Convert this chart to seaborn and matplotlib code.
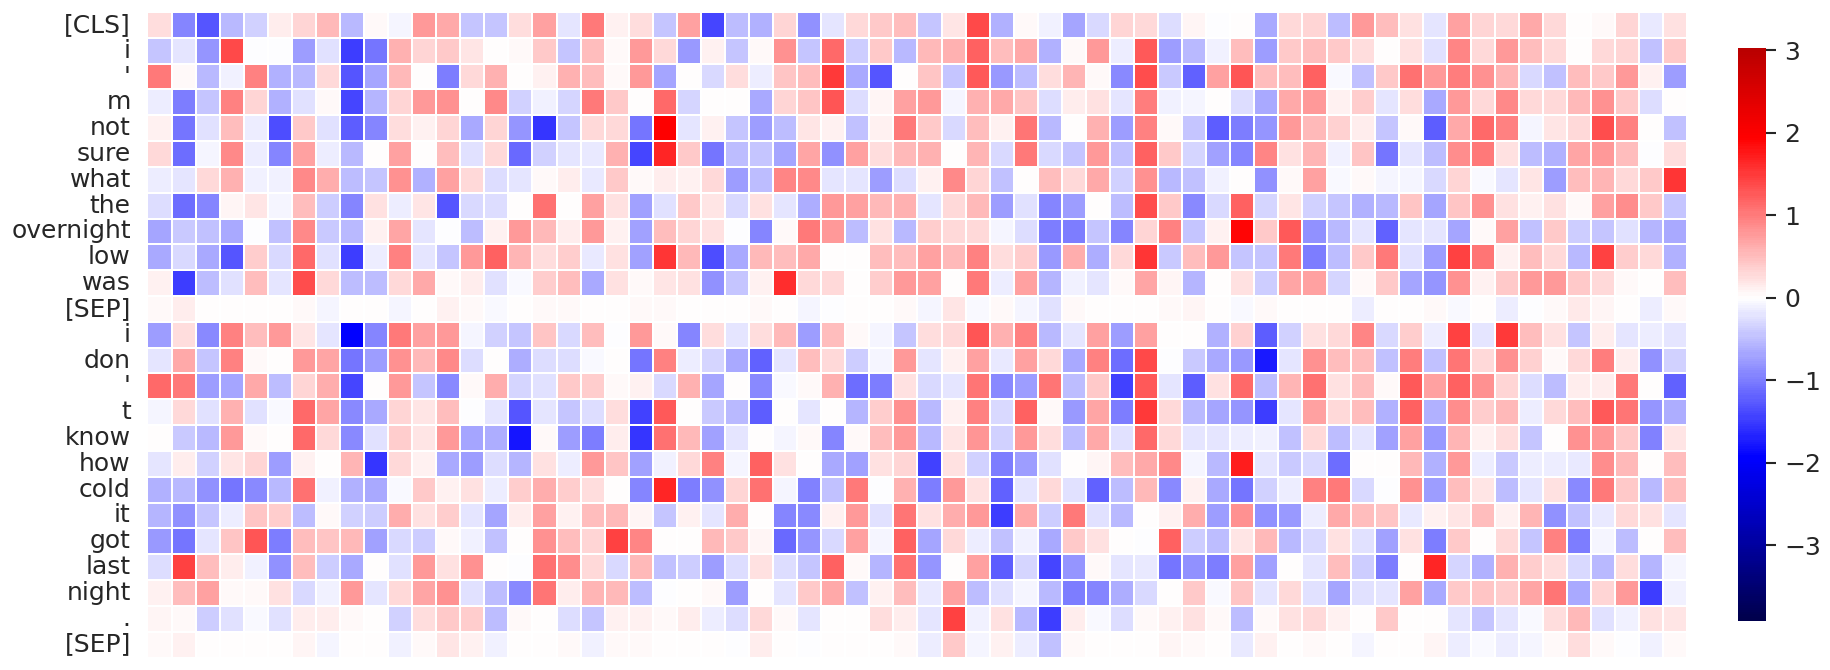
import numpy as np
import pandas as pd
import seaborn as sns
import matplotlib
matplotlib.use("Agg")
import matplotlib.pyplot as plt

tokens = ["[CLS]", "i", "'", "m", "not", "sure", "what", "the", "overnight", "low", "was", "[SEP]",
          "i", "don", "'", "t", "know", "how", "cold", "it", "got", "last", "night", ".", "[SEP]"]

row_cls = [.25,-.92,-1.3,-.55,-.35,.15,.33,.55,-.55,.03,-.07,.8,.65,-.45,-.45,.25,.72,-.18,1.0,.12,
           .25,-.47,.72,-1.4,-.5,-.6,.33,-.85,-.22,.3,.4,.5,-.45,.2,1.4,-.6,.03,-.1,-.7,-.3,.33,.28,-.28,.08,
           -.03,0,-.65,.27,.33,-.5,.75,.5,.22,-.22,.7,.33,.28,.65,.3,0,.04,.33,-.15,.22]
row_i1 = [-.45,-.2,-.8,1.4,-.03,-.03,-.75,-.25,-1.5,-1.05,.6,.32,.4,.2,0,.03,.4,-.47,.5,.03,
          .75,.28,-.78,.12,-.45,.03,.85,-.42,1.15,-.38,.4,-.55,.53,.6,1.2,.48,.65,-.6,.04,.78,-.12,1.25,-.75,-.55,
          -.1,.5,-.75,.4,.5,.4,.25,0,.22,-.25,.92,.28,.75,.5,.3,0,.3,.33,-.48,.4]
row_apos1 = [1.0,.04,-.55,-.1,.95,-.6,-.55,.27,-1.3,-.7,.55,0,-1.0,.3,.6,0,.1,.6,.5,.04,
             .75,-.68,0,-.3,.25,-.12,.45,.5,1.5,-.65,-1.3,0,.45,-.45,1.25,-.78,-.5,.25,.58,.06,-.9,1.35,-.4,-1.2,
             .7,1.3,.5,.5,1.2,-.04,-.48,.42,1.1,.78,.98,.85,.57,-.3,-.48,.5,.4,.75,.12,-.75]
row_m = [-.14,-1.0,-.42,.95,.33,-.6,-.25,.07,-1.4,-.58,.33,.8,.85,.01,.9,-.35,-.1,-.33,1.0,.4,
         0,1.15,-.32,0,0,-.65,.33,.45,1.3,-.28,.08,.7,.75,-.08,.6,.65,.45,-.28,.14,.22,-.2,.98,-.1,-.08,
         0,-.27,-.65,.65,.78,.1,.38,-.22,.25,-.65,.75,.3,.9,.3,.3,.52,.85,.42,-.27,0]
row_not = [.12,-1.05,-.25,.5,-.13,-1.35,.42,-.25,-1.25,-.95,.25,.1,.33,-.65,.33,-.8,-1.55,-.45,.3,.27,
           -1.05,1.96,-.2,.1,-.45,-.75,-.5,.2,.12,-.48,.12,1.0,.42,-.3,.48,.12,1.05,-.55,0,.6,-.75,.95,.07,-.45,
           -1.25,-1.0,-.8,.8,.55,.35,.15,-.45,.05,-1.25,.65,1.15,.95,-.08,.18,.3,1.35,.95,0,-.48]
row_sure = [.27,-1.1,-.08,.9,-.13,-.92,.72,-.12,-.55,0,.72,0,.48,-.25,.3,-1.15,-.35,-.2,-.15,.6,
            -1.4,1.65,.42,-1.05,-.5,-.45,-.68,.68,-.85,.72,.25,.52,.6,0,.58,-.3,1.0,-.3,-.45,.75,-.48,1.2,.42,-.33,
            -.72,-.92,.92,.22,.58,-.1,.45,-1.05,-.2,-.52,.88,1.0,.22,-.5,-.6,.68,.8,.48,-.02,.25]
row_what = [-.12,-.2,.3,.6,-.1,-.1,.9,.62,-.5,-.45,.85,-.6,.7,.3,-.27,-.2,.07,.14,-.15,.4,
            .04,.15,.12,.3,-.75,-.5,.92,.9,-.22,-.22,-.75,-.27,.12,.9,.33,-.48,0,.5,.27,.65,-.35,.85,-.55,-.48,
            -.1,0,-.85,.05,.72,-.04,.03,-.07,-.07,-.3,.33,-.05,-.2,.18,-.75,.5,.58,.27,.42,1.55]
row_the = [-.27,-1.1,-.92,.08,.2,-.07,.48,-.38,-.95,.22,-.14,.18,-1.3,-.3,-.27,.01,1.1,0,.7,.22,
           -.72,-.25,.42,.18,-.3,.22,-.22,-.62,.78,.72,.55,.6,-.22,.27,.55,-.75,-.25,-.92,-.75,0,-.5,1.35,.42,-.88,
           -.3,1.2,-.33,.2,-.35,-.45,-.6,-.55,.45,-.7,.45,.85,.22,.12,.22,.03,.72,.88,.42,-.45]
row_overnight = [-.7,-.4,-.48,-.65,-.03,-.48,.9,-.4,-.55,.12,.68,-.22,-.03,-.5,.1,.75,.55,.14,.75,.12,
                 -.72,.5,.33,.22,-.03,-.95,.03,1.0,.75,-.5,.22,-.55,.38,.3,.3,-.07,-.28,-1.0,-1.0,-.42,-.92,.33,.95,-.42,
                 .12,1.9,.42,1.25,-.85,-.55,-.22,-1.2,-.18,-.22,-.68,.05,.7,-.48,.42,-.38,-.42,-.25,-.58,-.65]
row_low = [-.65,-.3,-.65,-1.3,.38,-.3,1.15,-.25,-1.5,-.14,.95,-.22,-.45,.8,1.2,.58,.25,.38,-.15,.22,
           -.72,1.55,.55,-1.35,-.65,.55,.48,.65,0,0,.48,.48,.7,.55,.95,.25,.38,-.78,.62,-.62,.28,1.55,-.4,.48,
           .8,-.42,-.45,1.0,-1.0,-.5,.42,1.0,-.25,-.75,1.45,1.05,.1,.5,.3,-.55,1.45,.38,.3,-.6]
row_was = [.12,-1.5,-.5,-.25,.5,-.2,1.35,.27,-.5,-.52,.27,.65,.04,.15,-.25,-.04,.38,.5,-.65,.22,
           .07,.2,.22,-.85,-.42,.1,1.6,.3,.3,0,.38,.75,.7,0,1.0,-.12,.72,-.58,-.1,-.22,.04,.68,.08,-.58,
           0,.22,-.38,.68,.72,-.32,.03,.4,-.68,-.8,.85,.12,.4,.78,.8,.42,.28,.05,0,.48]
row_sep1 = [.02,.15,0,0,0,0,.07,-.07,0,0,-.08,0,.1,.07,-.04,-.01,.03,.06,0,.01,
            .04,.02,.01,0,0,.07,0,-.07,-.02,0,0,.05,-.09,.18,-.06,.06,-.09,-.25,.03,0,0,0,.07,.08,
            -.01,-.06,.05,0,0,0,-.12,0,0,.07,-.06,0,-.14,-.03,.02,.16,.08,0,-.12,.02]
row_i2 = [-.75,.25,-.9,.95,.5,.8,.18,-.2,-1.96,-.95,1.0,.72,.8,-.07,-.35,-.42,.45,-.3,.48,-.03,
          .75,.05,-.95,.25,-.2,.25,.55,-.75,.5,.04,-.07,-.42,.25,.27,1.3,.6,.95,-.55,-.18,.72,-.75,.72,0,0,
          -.6,.35,-1.25,-.35,.22,.3,.92,-.3,.38,-.13,1.45,-.2,1.5,.48,.22,-.42,.13,-.18,-.12,-.22]
row_don = [-.22,.65,-.42,.95,.07,0,.75,.68,-1.05,-.75,.85,.55,.9,-.28,0,-.62,-.27,-.28,-.04,0,
           -1.05,.95,-.13,-.32,-.65,-1.2,-.18,.5,.27,-.38,-.07,.75,-.22,.1,.72,-.15,.72,.3,-.65,.95,-1.1,1.4,-.03,-.4,
           -.65,-.78,-1.75,-.2,.85,.5,.48,-.48,.98,-.48,1.05,.3,.85,.35,.03,.27,.98,.13,-.85,-.35]
row_apos2 = [1.15,1.0,-.75,-.7,.65,-.5,.33,.62,-1.4,0,.78,-.42,-.9,.07,.62,-.33,-.25,.42,.38,.03,
             .12,-.3,.6,-.7,0,-.9,-.04,.03,.6,-1.1,-1.0,.22,-.3,-.18,1.05,-.88,-.75,1.05,-.5,.4,-1.45,1.25,-.22,-1.25,
             .22,1.15,-.52,.58,1.1,.22,.5,.06,1.25,.72,1.2,.85,.33,-.27,-.5,.14,.13,1.0,0,-1.2]
row_t = [-.07,.3,-.25,.6,-.25,-.04,1.15,.68,-.88,-.65,.33,.18,.5,-.03,-.2,-1.3,-.22,-.42,-.28,.25,
         -1.45,1.25,0,-.4,-.55,-1.25,0,-.18,0,-.58,.38,.85,-.55,.1,.95,-.3,1.2,.03,-.78,.68,-1.0,1.5,.27,-.55,
         -.7,-.8,-1.5,-.2,.72,.3,.48,-.6,1.2,-.6,.88,.38,.55,-.14,.3,.5,1.25,1.05,-.8,-.62]
row_know = [0,-.4,-.55,.75,.03,0,1.15,.27,-.88,-.25,.38,.18,.75,-.7,-.62,-1.8,.07,-.75,-1.0,.15,
            -1.55,1.1,.55,-.72,-.2,0,-.07,.04,-.92,.07,.5,.8,-.55,.2,.82,-.35,.8,.25,-.5,.65,-.25,1.15,.3,-.2,
            -.22,-.14,-.1,-.48,.3,-.5,-.2,-.72,.72,-.78,.58,.1,.25,-.42,0,.85,.75,.4,-.98,.2]
row_how = [-.2,.14,-.35,.2,.33,-.75,.12,0,.58,-1.55,.3,.12,-.65,-.75,-.28,-.58,.22,-.14,.78,.45,
           -.72,-.1,.3,.95,-.07,1.2,.22,0,-.65,-.72,.22,.33,-1.45,.22,-.35,-1.0,-.75,-.25,0,.08,.48,.65,.9,-.08,
           -.55,1.72,-.22,-.4,-.3,-1.1,0,0,.55,-.6,.75,-.14,-.4,-.14,-.13,-.15,.88,.55,0,.48]
row_cold = [-.6,-.55,-.85,-1.05,-.9,-.55,1.1,-.1,-.6,-.65,-.05,.42,.12,.22,-.12,.38,.62,.38,.25,0,
            -.95,1.65,-1.0,-.85,.33,1.1,-.07,-.98,-.48,1.0,-.03,.6,-1.0,.75,.22,-1.2,-.22,.27,-.25,-1.2,-.5,.55,-.88,.1,
            -.65,-1.05,-.35,-.12,.95,1.0,-.3,-.02,.85,-.75,.48,.2,-.52,-.22,.22,-.88,1.0,.4,-.55,.48]
row_it = [-.58,-.85,-.42,-.12,.45,.38,-.52,.03,-.35,-.38,.62,.22,.38,-.2,-.68,.15,.72,.1,.5,.52,
          .08,-.45,.12,-.2,.62,0,-.92,-.88,.12,.8,-.25,1.05,.22,.62,.75,-1.5,.65,-.38,1.0,-.25,-.55,0,.12,.62,
          -.75,.85,-.85,-.78,-.13,.65,.48,.45,-.17,.1,.2,.48,.1,.58,-.85,-.48,-.17,.3,.22,-.22]
row_got = [-.78,-1.05,-.22,.45,1.3,-1.0,.48,.45,.55,-.72,-.3,-.38,.03,-.1,-.48,0,.85,.5,.33,1.45,
           .92,0,0,.55,.42,.08,-1.15,-.82,-.3,.72,-.08,1.2,-.7,.3,-.13,-.48,-.1,-.65,.42,.22,0,-.03,1.2,-.38,
           -.5,.2,.55,-.55,-.3,.22,-.25,-.72,.22,-1.0,.4,0,.3,-.42,.95,-1.0,-.08,-.5,0,.48]
row_last = [-.27,1.45,.5,.15,-.1,-.85,.48,-.38,-.65,0,-.25,.75,.22,.85,0,-.03,1.1,.88,.3,-.3,
            .55,-.48,-.38,-.75,-.27,.22,-.27,-.42,1.2,.03,-.58,1.1,-.82,0,.72,-1.25,-.32,-1.4,-.82,.03,-.2,-.17,-1.05,-.85,
            -1.0,.72,-.72,0,-.22,.48,-.38,-1.0,0,1.65,-.32,-.6,.6,.38,.25,-.3,-.55,.25,-.58,-.07]
row_night = [.12,.5,.72,.02,.03,.22,-.3,-.1,.75,-.2,.27,.68,.85,-.25,-.52,-.88,1.05,.13,.58,.55,
             -.5,-.03,0,.03,-.75,0,-.18,.42,.65,-.48,.12,.48,-.17,.7,-.52,-.25,-.07,-.55,-1.0,-.95,-.62,-.3,0,.42,
             -.04,.45,-.2,.3,-.25,-.7,-.25,-.2,.72,-.65,.42,.45,.38,.68,1.05,-.65,.33,.75,-1.5,-.1]
row_period = [.08,.06,-.38,-.25,-.04,-.25,.14,.15,.06,0,-.35,.25,.42,.38,-.5,.07,0,-.27,-.42,.1,
              .1,.04,.13,-.14,-.27,.27,.07,-.2,0,0,.25,.15,-.2,1.45,-.1,.22,-.55,-1.5,.15,-.06,-.27,.03,.1,.22,
              .07,-.5,.04,.22,.27,.1,0,.42,0,0,-.22,-.45,-.18,-.04,.25,.55,-.25,-.1,.22,.2]
row_sep2 = [.02,.12,0,0,-.01,0,.08,-.08,0,0,-.1,.04,.2,.12,-.1,0,0,.03,-.1,.04,
            .06,.01,0,0,-.03,.13,0,-.03,0,0,0,.06,-.14,.4,-.07,.1,-.12,-.48,.04,0,0,0,.08,.05,
            -.01,-.15,.1,0,.03,0,-.09,0,.01,.08,-.12,-.04,-.14,-.07,.03,.25,.04,-.03,-.1,.02]

matrix = [row_cls, row_i1, row_apos1, row_m, row_not, row_sure, row_what, row_the, row_overnight,
          row_low, row_was, row_sep1, row_i2, row_don, row_apos2, row_t, row_know, row_how, row_cold,
          row_it, row_got, row_last, row_night, row_period, row_sep2]

scale_min = -3.92
scale_max = 3.03
cbar_ticks = [-3, -2, -1, 0, 1, 2, 3]

sns.set_theme(style="white")
W, H = 1831, 670
fig = plt.figure(figsize=(W / 100, H / 100), dpi=100)
ax = fig.add_axes([147.5 / W, 1 - 657.5 / H, (1687.5 - 147.5) / W, (657.5 - 12) / H])
cax = fig.add_axes([1738 / W, 1 - 621 / H, 28 / W, (621 - 48) / H])

df = pd.DataFrame(np.array(matrix, dtype=float), index=range(len(tokens)))
sns.heatmap(df, ax=ax, cbar_ax=cax, cmap="seismic", center=0, vmin=scale_min, vmax=scale_max,
            linewidths=1.1, linecolor="white", xticklabels=False, yticklabels=tokens)
ax.tick_params(axis="y", left=False, length=0, pad=12, labelsize=18, labelcolor=".15", rotation=0)
ax.tick_params(axis="x", bottom=False)
cax.set_yticks(cbar_ticks)
cax.tick_params(axis="y", right=True, length=7, width=1.5, color=".15", pad=6, labelsize=18, labelcolor=".15")
cax.collections[0].set_edgecolor("face")
for s in cax.spines.values():
    s.set_visible(False)
fig.savefig("out.png", dpi=100)
